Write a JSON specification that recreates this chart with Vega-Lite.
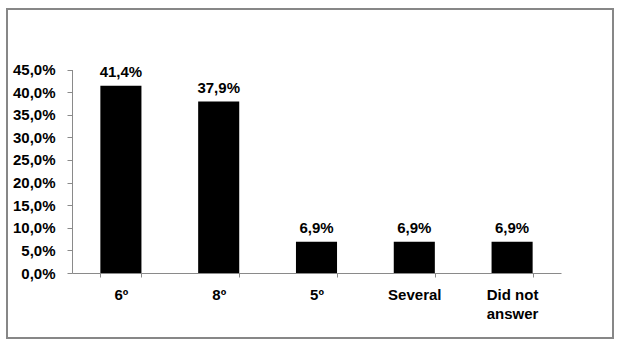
{
  "$schema": "https://vega.github.io/schema/vega-lite/v6.json",
  "width": 606,
  "height": 329,
  "autosize": "none",
  "padding": {"left": 7, "top": 9, "right": 9, "bottom": 13},
  "background": "white",
  "config": {
    "view": {"stroke": "#878787", "strokeWidth": 2},
    "font": "Liberation Sans",
    "locale": {"number": {"decimal": ",", "thousands": ".", "grouping": [3], "currency": ["", " €"]}}
  },
  "data": {
    "values": [
      {"cat": "6º", "pct": 0.414},
      {"cat": "8º", "pct": 0.379},
      {"cat": "5º", "pct": 0.069},
      {"cat": "Several", "pct": 0.069},
      {"cat": "Did not answer", "pct": 0.069}
    ]
  },
  "encoding": {
    "x": {
      "field": "cat",
      "type": "nominal",
      "sort": null,
      "scale": {"range": [65, 554], "paddingInner": 0.58, "paddingOuter": 0.29},
      "axis": {
        "title": null,
        "offset": -65,
        "labelAngle": 0,
        "labelFont": "Liberation Sans",
        "labelFontSize": 15,
        "labelFontWeight": "bold",
        "labelColor": "black",
        "labelPadding": 10,
        "labelLineHeight": 19,
        "labelBaseline": "top",
        "labelExpr": "datum.label == 'Did not answer' ? ['Did not', 'answer'] : datum.label",
        "domainColor": "#8a8a8a",
        "tickColor": "#8a8a8a",
        "tickSize": 4,
        "tickBand": "extent",
        "grid": false
      }
    },
    "y": {
      "field": "pct",
      "type": "quantitative",
      "scale": {"domain": [0, 0.45], "range": [264, 60.5], "nice": false},
      "axis": {
        "title": null,
        "offset": -65,
        "format": ".1%",
        "values": [0, 0.05, 0.1, 0.15, 0.2, 0.25, 0.3, 0.35, 0.4, 0.45],
        "labelFont": "Liberation Sans",
        "labelFontSize": 15,
        "labelFontWeight": "bold",
        "labelColor": "black",
        "labelPadding": 12,
        "tickSize": 5,
        "domainColor": "#8a8a8a",
        "tickColor": "#8a8a8a",
        "grid": false
      }
    }
  },
  "layer": [
    {"mark": {"type": "bar", "color": "black"}},
    {
      "mark": {"type": "text", "baseline": "alphabetic", "dy": -9, "font": "Liberation Sans", "fontSize": 15, "fontWeight": "bold", "color": "black"},
      "encoding": {"text": {"field": "pct", "type": "quantitative", "format": ".1%"}}
    }
  ]
}
